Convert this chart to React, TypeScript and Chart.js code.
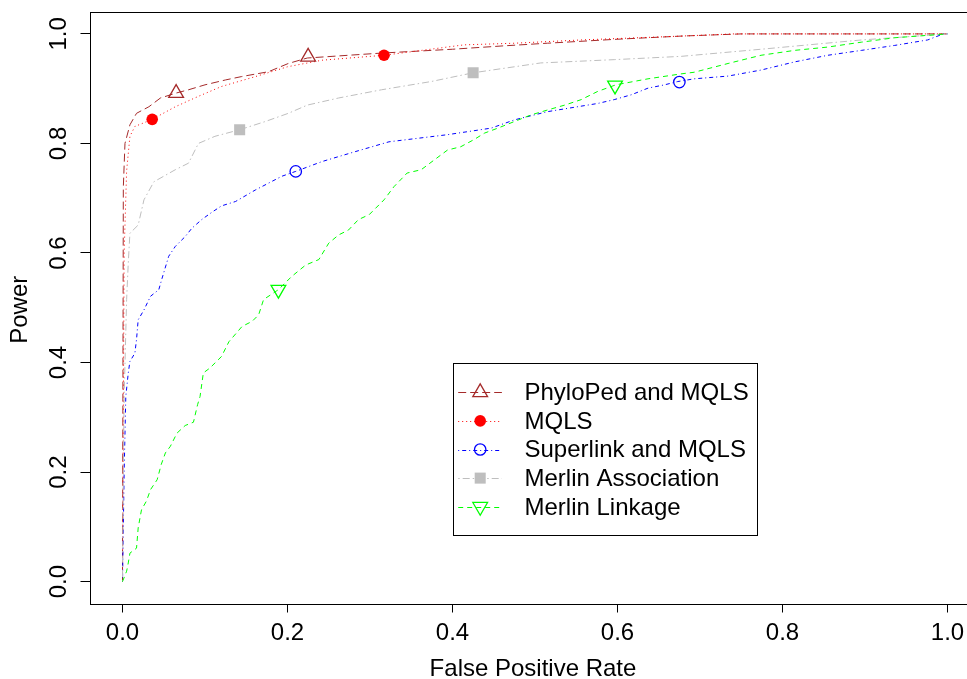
import React, { useEffect, useRef } from "react";
import { Chart, registerables } from "chart.js";
import { drawPoint } from "chart.js/helpers";

Chart.register(...registerables);

// ---------- data ----------
const xTickValues = [0, 0.2, 0.4, 0.6, 0.8, 1.0];
const xTickLabels = ["0.0", "0.2", "0.4", "0.6", "0.8", "1.0"];
const yTickValues = [0, 0.2, 0.4, 0.6, 0.8, 1.0];
const yTickLabels = ["0.0", "0.2", "0.4", "0.6", "0.8", "1.0"];
const xTitle = "False Positive Rate";
const yTitle = "Power";

const seriesNames = [
  "PhyloPed and MQLS",
  "MQLS",
  "Superlink and MQLS",
  "Merlin Association",
  "Merlin Linkage",
];

const phyloFpr = [0, 0.001, 0.003, 0.009, 0.017, 0.032, 0.046, 0.065, 0.08, 0.1, 0.125, 0.144, 0.177, 0.201, 0.224, 0.254, 0.314, 0.4, 0.46, 0.515, 0.596, 0.677, 0.75, 1.0];
const phyloPower = [0, 0.72, 0.8, 0.834, 0.855, 0.867, 0.883, 0.892, 0.898, 0.907, 0.916, 0.922, 0.931, 0.946, 0.956, 0.959, 0.965, 0.972, 0.978, 0.983, 0.99, 0.996, 1.0, 1.0];
const phyloMarkFpr = [0.065, 0.225];
const phyloMarkPower = [0.892, 0.958];

const mqlsFpr = [0, 0.002, 0.005, 0.009, 0.015, 0.036, 0.064, 0.092, 0.12, 0.161, 0.2, 0.242, 0.317, 0.414, 0.475, 0.556, 0.677, 0.74, 1.0];
const mqlsPower = [0, 0.6, 0.75, 0.813, 0.831, 0.844, 0.867, 0.886, 0.904, 0.922, 0.94, 0.952, 0.961, 0.98, 0.983, 0.989, 0.996, 1.0, 1.0];
const mqlsMarkFpr = [0.036, 0.317];
const mqlsMarkPower = [0.844, 0.961];

const superFpr = [0, 0.002, 0.004, 0.007, 0.009, 0.015, 0.017, 0.019, 0.026, 0.034, 0.044, 0.048, 0.056, 0.064, 0.076, 0.084, 0.096, 0.108, 0.12, 0.137, 0.161, 0.193, 0.21, 0.242, 0.282, 0.323, 0.394, 0.447, 0.475, 0.515, 0.576, 0.596, 0.617, 0.637, 0.657, 0.673, 0.693, 0.734, 0.774, 0.815, 0.855, 0.896, 0.936, 0.976, 0.995, 1.0];
const superPower = [0, 0.2, 0.338, 0.381, 0.402, 0.417, 0.442, 0.478, 0.496, 0.521, 0.533, 0.554, 0.594, 0.612, 0.63, 0.645, 0.661, 0.674, 0.686, 0.694, 0.715, 0.74, 0.749, 0.767, 0.785, 0.803, 0.816, 0.828, 0.843, 0.858, 0.873, 0.88, 0.889, 0.901, 0.907, 0.913, 0.918, 0.923, 0.934, 0.949, 0.961, 0.97, 0.979, 0.989, 1.0, 1.0];
const superMarkFpr = [0.21, 0.675];
const superMarkPower = [0.749, 0.912];

const assocFpr = [0, 0.001, 0.002, 0.005, 0.007, 0.009, 0.019, 0.026, 0.038, 0.064, 0.08, 0.092, 0.112, 0.142, 0.173, 0.201, 0.224, 0.262, 0.314, 0.374, 0.425, 0.507, 0.596, 0.677, 0.774, 0.896, 1.0];
const assocPower = [0, 0.2, 0.338, 0.515, 0.582, 0.636, 0.651, 0.697, 0.73, 0.752, 0.764, 0.8, 0.813, 0.825, 0.84, 0.855, 0.87, 0.883, 0.898, 0.913, 0.929, 0.947, 0.953, 0.959, 0.972, 0.989, 1.0];
const assocMarkFpr = [0.142, 0.425];
const assocMarkPower = [0.825, 0.929];

const linkFpr = [0, 0.005, 0.007, 0.009, 0.017, 0.019, 0.023, 0.029, 0.034, 0.042, 0.047, 0.052, 0.058, 0.066, 0.076, 0.086, 0.091, 0.094, 0.098, 0.106, 0.12, 0.129, 0.145, 0.157, 0.165, 0.171, 0.189, 0.205, 0.222, 0.238, 0.25, 0.262, 0.274, 0.286, 0.299, 0.317, 0.329, 0.345, 0.362, 0.378, 0.394, 0.41, 0.426, 0.439, 0.455, 0.475, 0.495, 0.515, 0.536, 0.556, 0.576, 0.598, 0.637, 0.677, 0.693, 0.734, 0.774, 0.815, 0.855, 0.896, 0.936, 1.0];
const linkPower = [0, 0.019, 0.034, 0.052, 0.061, 0.098, 0.131, 0.147, 0.168, 0.186, 0.214, 0.235, 0.247, 0.271, 0.285, 0.291, 0.323, 0.338, 0.381, 0.39, 0.411, 0.438, 0.466, 0.475, 0.487, 0.515, 0.533, 0.557, 0.578, 0.588, 0.618, 0.633, 0.642, 0.661, 0.67, 0.697, 0.721, 0.746, 0.752, 0.77, 0.788, 0.794, 0.807, 0.819, 0.828, 0.84, 0.852, 0.861, 0.87, 0.88, 0.895, 0.907, 0.918, 0.927, 0.93, 0.946, 0.961, 0.97, 0.976, 0.985, 0.993, 1.0];
const linkMarkFpr = [0.189, 0.597];
const linkMarkPower = [0.533, 0.906];

// ---------- styles ----------
const FAMILY = '"Liberation Sans", Arial, Helvetica, sans-serif';
const FONT = `24px ${FAMILY}`;

type Style = {
  color: string;
  dash: number[];
  pointStyle: string;
  radius: number;
  rotation: number;
  filled: boolean;
};

const styles: Style[] = [
  { color: "#A52A2A", dash: [8, 4], pointStyle: "triangle", radius: 8.5, rotation: 0, filled: false },
  { color: "#FF0000", dash: [1, 3], pointStyle: "circle", radius: 5.8, rotation: 0, filled: true },
  { color: "#0000FF", dash: [1, 3, 4, 3], pointStyle: "circle", radius: 5.7, rotation: 0, filled: false },
  { color: "#BEBEBE", dash: [1.5, 3, 7, 3], pointStyle: "rect", radius: 7.8, rotation: 0, filled: true },
  { color: "#00FF00", dash: [5, 4], pointStyle: "triangle", radius: 8.5, rotation: 180, filled: false },
];

const lineSets = [
  [phyloFpr, phyloPower],
  [mqlsFpr, mqlsPower],
  [superFpr, superPower],
  [assocFpr, assocPower],
  [linkFpr, linkPower],
];
const markSets = [
  [phyloMarkFpr, phyloMarkPower],
  [mqlsMarkFpr, mqlsMarkPower],
  [superMarkFpr, superMarkPower],
  [assocMarkFpr, assocMarkPower],
  [linkMarkFpr, linkMarkPower],
];

const toXY = (xs: number[], ys: number[]) => xs.map((x, i) => ({ x, y: ys[i] }));

const decorPlugin = {
  id: "decor",
  afterDraw(chart: any) {
    const { ctx, chartArea: a, scales } = chart;
    const ys = scales.y;
    const xs = scales.x;
    ctx.save();
    // box
    ctx.setLineDash([]);
    ctx.strokeStyle = "#000";
    ctx.lineWidth = 1;
    const l = Math.round(a.left) + 0.5;
    const t = Math.round(a.top) + 0.5;
    const r = Math.round(a.right) + 0.5;
    const b = Math.round(a.bottom) + 0.5;
    ctx.strokeRect(l, t, r - l, b - t);

    // y tick labels (rotated, R style)
    ctx.font = FONT;
    ctx.fillStyle = "#000";
    ctx.textAlign = "center";
    ctx.textBaseline = "middle";
    yTickValues.forEach((v, i) => {
      const y = ys.getPixelForValue(v);
      ctx.save();
      ctx.translate(59.7, y);
      ctx.rotate(-Math.PI / 2);
      ctx.fillText(yTickLabels[i], 0, 0);
      ctx.restore();
    });

    // axis titles
    ctx.fillText(xTitle, (a.left + a.right) / 2 - 2, 669.7);
    ctx.save();
    ctx.translate(20.4, (a.top + a.bottom) / 2 + 2);
    ctx.rotate(-Math.PI / 2);
    ctx.fillText(yTitle, 0, 0);
    ctx.restore();

    // legend, anchored at data (0.4, 0.4)
    const lx = xs.getPixelForValue(0.4);
    const ly = ys.getPixelForValue(0.4);
    const bw = 304.4;
    const bh = 172.3;
    ctx.strokeStyle = "#000";
    ctx.lineWidth = 1;
    ctx.strokeRect(Math.round(lx) + 0.5, Math.round(ly) + 0.5, Math.round(bw), Math.round(bh));
    seriesNames.forEach((name, i) => {
      const s = styles[i];
      const cy = ly + 29.8 + i * 28.6;
      ctx.save();
      ctx.strokeStyle = s.color;
      ctx.lineWidth = 1;
      ctx.setLineDash(s.dash);
      ctx.beginPath();
      ctx.moveTo(lx + 5.7, Math.round(cy) + 0.5);
      ctx.lineTo(lx + 49.4, Math.round(cy) + 0.5);
      ctx.stroke();
      ctx.setLineDash([]);
      ctx.fillStyle = s.filled ? s.color : "rgba(0,0,0,0)";
      ctx.strokeStyle = s.color;
      ctx.lineWidth = s.filled ? 0.01 : 1.3;
      drawPoint(ctx, { pointStyle: s.pointStyle as any, rotation: s.rotation, radius: s.radius, borderWidth: s.filled ? 0 : 1.3 }, lx + 27.7, cy);
      ctx.restore();
      ctx.fillStyle = "#000";
      ctx.font = FONT;
      ctx.textAlign = "left";
      ctx.textBaseline = "middle";
      ctx.fillText(name, lx + 72, cy + 1.2);
    });
    ctx.restore();
  },
};

export default function App() {
  const ref = useRef<HTMLCanvasElement | null>(null);

  useEffect(() => {
    if (!ref.current) return;
    const datasets: any[] = [];
    lineSets.forEach(([xs, ys], i) => {
      const s = styles[i];
      datasets.push({
        label: seriesNames[i],
        data: toXY(xs, ys),
        borderColor: s.color,
        borderWidth: 1,
        borderDash: s.dash,
        pointRadius: 0,
        tension: 0,
        fill: false,
        order: 10 - i,
      });
    });
    markSets.forEach(([xs, ys], i) => {
      const s = styles[i];
      datasets.push({
        label: seriesNames[i] + " markers",
        data: toXY(xs, ys),
        showLine: false,
        borderColor: s.color,
        backgroundColor: s.filled ? s.color : "rgba(0,0,0,0)",
        pointStyle: s.pointStyle,
        pointRadius: s.radius,
        pointRotation: s.rotation,
        pointBorderWidth: s.filled ? 0 : 1.3,
        pointBorderColor: s.color,
        pointBackgroundColor: s.filled ? s.color : "rgba(0,0,0,0)",
        order: 0,
      });
    });

    const chart = new Chart(ref.current, {
      type: "line",
      data: { datasets },
      options: {
        animation: false,
        responsive: false,
        events: [],
        layout: { padding: { left: 0, top: 12, right: 19.5, bottom: 0 } },
        plugins: { legend: { display: false }, tooltip: { enabled: false } },
        scales: {
          x: {
            type: "linear",
            min: -0.04,
            max: 1.04,
            afterBuildTicks: (s: any) => {
              s.ticks = xTickValues.map((v) => ({ value: v }));
            },
            afterFit: (s: any) => {
              s.height = 75.5;
            },
            grid: { drawOnChartArea: false, drawTicks: true, tickLength: 9, color: "#000", lineWidth: 1 },
            border: { display: false },
            ticks: {
              font: { family: FAMILY, size: 24 },
              color: "#000",
              padding: 6,
              maxRotation: 0,
              minRotation: 0,
              autoSkip: false,
              callback: (_v: any, i: number) => xTickLabels[i],
            },
          },
          y: {
            type: "linear",
            min: -0.04,
            max: 1.04,
            afterBuildTicks: (s: any) => {
              s.ticks = yTickValues.map((v) => ({ value: v }));
            },
            afterFit: (s: any) => {
              s.width = 89.5;
            },
            grid: { drawOnChartArea: false, drawTicks: true, tickLength: 9, color: "#000", lineWidth: 1 },
            border: { display: false },
            ticks: { display: false },
          },
        },
      } as any,
      plugins: [decorPlugin],
    });
    return () => chart.destroy();
  }, []);

  return (
    <div style={{ position: "absolute", left: 0, top: 0, width: 967, height: 679, overflow: "hidden", background: "#fff" }}>
      <canvas ref={ref} width={1000} height={679} style={{ display: "block", width: 1000, height: 679 }} />
    </div>
  );
}
